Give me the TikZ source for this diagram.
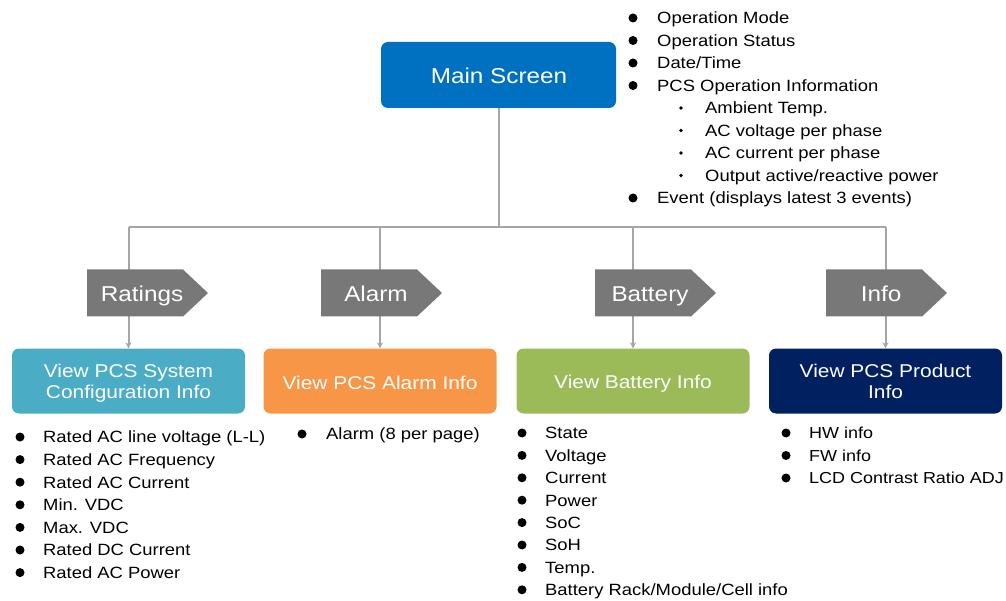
\documentclass[tikz,border=0pt]{standalone}
\usepackage{fontspec}
\setmainfont{Liberation Sans}[FakeStretch=1.13]
\usetikzlibrary{arrows.meta}
\definecolor{mainblue}{RGB}{0,112,192}
\definecolor{cyanbox}{RGB}{75,172,198}
\definecolor{orangebox}{RGB}{247,150,70}
\definecolor{greenbox}{RGB}{155,187,89}
\definecolor{navybox}{RGB}{0,32,96}
\definecolor{taggray}{RGB}{120,120,120}
\definecolor{linegray}{RGB}{166,166,166}
\begin{document}
\begin{tikzpicture}[x=1pt,y=-1pt,
  boxstyle/.style={rounded corners=7pt, minimum width=233pt, minimum height=65pt, inner sep=0pt},
  boxlabel/.style={text=white, align=center, font=\fontsize{18.5}{21}\selectfont, inner sep=0pt},
  item/.style={anchor=west, font=\fontsize{16.3}{20}\selectfont, inner sep=0pt, text height=11.7pt, text depth=0pt},
  conn/.style={draw=linegray, line width=2pt},
  arr/.style={conn, -{Stealth[length=6pt,width=6pt]}},
  taglabel/.style={text=white, font=\fontsize{21.5}{24}\selectfont, inner sep=0pt, text height=15.4pt, text depth=0pt},
  bul/.style={fill=black}
]
\useasboundingbox (0,0) rectangle (1006,601);

% main box
\node[boxstyle, fill=mainblue, minimum width=235pt, minimum height=66pt] (main) at (498.5,75) {};
\node[text=white, inner sep=0pt, font=\fontsize{21.5}{26}\selectfont, text height=15.4pt, text depth=0pt] (mainl) at (499,76) {Main Screen};

% screen boxes
\node[boxstyle, fill=cyanbox] (b1) at (128.5,381) {};
\node[boxstyle, fill=orangebox] (b2) at (380,381) {};
\node[boxstyle, fill=greenbox] (b3) at (633,381) {};
\node[boxstyle, fill=navybox] (b4) at (885.5,381) {};
\node[boxlabel] (b1l) at (128.5,383) {View PCS System\\Configuration Info};
\node[boxlabel] (b2l) at (380,382.5) {View PCS Alarm Info};
\node[boxlabel] (b3l) at (633,384) {View Battery Info};
\node[boxlabel] (b4l) at (885.5,381.5) {View PCS Product\\Info};

% junctions
\coordinate (j1) at (128.5,227);
\coordinate (j2) at (380,227);
\coordinate (j3) at (633,227);
\coordinate (j4) at (885.5,227);
\coordinate (hub) at (main.south |- j1);

\draw[conn] (main.south) -- (hub);
\draw[conn] (j1) -- (j4);
\draw[arr] (j1) -- (b1.north);
\draw[arr] (j2) -- (b2.north);
\draw[arr] (j3) -- (b3.north);
\draw[arr] (j4) -- (b4.north);

% tags
\foreach \L/\name/\lab in {87/t1/Ratings, 321/t2/Alarm, 595/t3/Battery, 826/t4/Info}{
  \fill[taggray] (\L,269.5) -- ({\L+96},269.5) -- ({\L+121},293) -- ({\L+96},316.5) -- (\L,316.5) -- cycle;
  \node[taglabel] (\name) at ({\L+55},293.5) {\lab};
}

% main list
\foreach \t [count=\i from 0] in {Operation Mode, Operation Status, Date/Time, PCS Operation Information}{
  \fill[bul] (633,{18+22.5*\i}) circle (4.5pt);
  \node[item] (ml\i) at (657,{18+22.5*\i}) {\t};
}
\foreach \t [count=\i from 4] in {Ambient Temp., AC voltage per phase, AC current per phase, Output active/reactive power}{
  \fill[bul] (681,{18+22.5*\i}) circle (1.9pt);
  \node[item] (ml\i) at (705,{18+22.5*\i}) {\t};
}
\fill[bul] (633,198) circle (4.5pt);
\node[item] (ml8) at (657,198) {Event (displays latest 3 events)};

% ratings list
\foreach \t [count=\i from 0] in {Rated AC line voltage (L-L), Rated AC Frequency, Rated AC Current, Min. VDC, Max. VDC, Rated DC Current, Rated AC Power}{
  \fill[bul] (20,{437+22.6*\i}) circle (4.5pt);
  \node[item] (rl\i) at (43,{437+22.6*\i}) {\t};
}
% alarm list
\fill[bul] (302,434) circle (4.5pt);
\node[item] (al0) at (326,434) {Alarm (8 per page)};
% battery list
\foreach \t [count=\i from 0] in {State, Voltage, Current, Power, SoC, SoH, Temp., Battery Rack/Module/Cell info}{
  \fill[bul] (522,{433+22.4*\i}) circle (4.5pt);
  \node[item] (bl\i) at (545,{433+22.4*\i}) {\t};
}
% info list
\foreach \t [count=\i from 0] in {HW info, FW info, LCD Contrast Ratio ADJ}{
  \fill[bul] (786,{433+22.5*\i}) circle (4.5pt);
  \node[item, font=\fontsize{15.9}{20}\selectfont] (il\i) at (809,{433+22.5*\i}) {\t};
}
\end{tikzpicture}
\end{document}
